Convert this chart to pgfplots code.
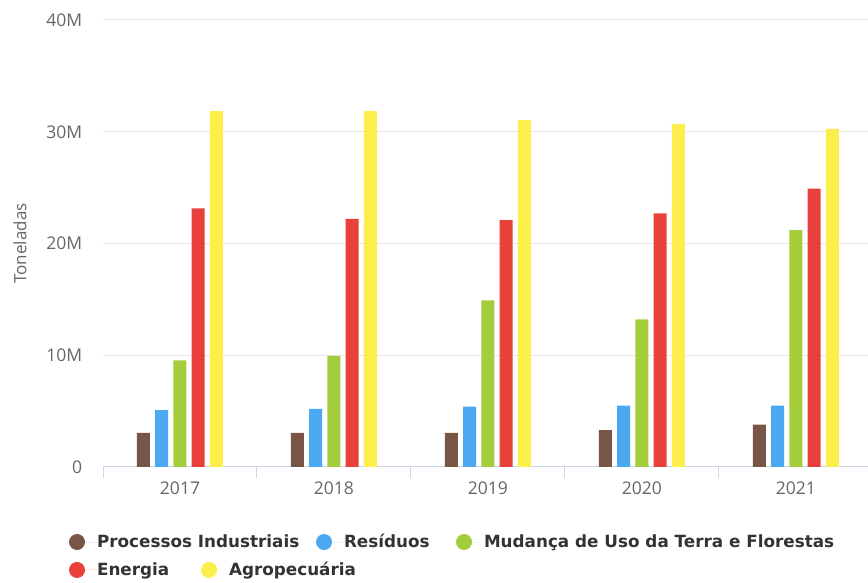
\documentclass[border=0pt]{standalone}
\usepackage{pgfplots}
\pgfplotsset{compat=1.18}
\usepackage{fontspec}
\setmainfont{Open Sans}
\newfontfamily\legfont{DejaVu Sans}

\definecolor{cBrown}{HTML}{795548}
\definecolor{cBlue}{HTML}{4AA9F0}
\definecolor{cGreen}{HTML}{A4CD3B}
\definecolor{cRed}{HTML}{E8403A}
\definecolor{cYellow}{HTML}{FCEF4C}
\definecolor{gridc}{HTML}{E6E6E6}
\definecolor{axisc}{HTML}{CCD6EB}
\definecolor{tickc}{HTML}{666666}
\definecolor{legc}{HTML}{333333}

% emissions per sector, millions of tonnes
\pgfplotstableread{
x  proc  resid  mud   ener  agro
0  3.05  5.10   9.55  23.15 31.85
1  3.05  5.20   9.95  22.20 31.85
2  3.05  5.40  14.90  22.10 31.05
3  3.30  5.50  13.20  22.70 30.70
4  3.80  5.50  21.20  24.90 30.25
}\emis

\tikzset{legfontstyle/.style={font=\legfont\bfseries\fontsize{16.8}{19}\selectfont}}
\pgfplotsset{
  circleleg/.style={legend image code/.code={
      \fill[##1] (8pt,0pt) circle (8pt);
      \path (0pt,0pt) -- (28pt,0pt);}},
}

\begin{document}
\begin{tikzpicture}
\useasboundingbox (0,0) rectangle (868pt,583pt);
\begin{axis}[
  at={(103pt,116pt)}, anchor=south west,
  scale only axis, width=765pt, height=447pt,
  xmin=-0.5, xmax=4.468, ymin=0, ymax=40,
  axis x line*=bottom, axis y line*=left,
  x axis line style={draw=axisc, line width=1pt},
  y axis line style={draw=none},
  ytick={0,10,20,30,40},
  yticklabels={0,10M,20M,30M,40M},
  xtick={0,1,2,3,4},
  xticklabels={2017,2018,2019,2020,2021},
  minor xtick={-0.5,0.5,1.5,2.5,3.5},
  major tick style={draw=none},
  minor tick style={draw=axisc, line width=1pt},
  minor tick length=11pt,
  tick align=outside,
  ymajorgrids, grid style={draw=gridc, line width=1pt},
  yticklabel style={font=\fontsize{17.5}{20}\selectfont, text=tickc, xshift=-13pt},
  xticklabel style={font=\fontsize{17.5}{20}\selectfont, text=tickc, yshift=-7pt},
  /pgf/number format/assume math mode=true,
  ylabel={Toneladas},
  every axis y label/.style={at={(axis description cs:-0.1085,0.5)}, rotate=90,
    anchor=center, font=\fontsize{17}{20}\selectfont, text=tickc},
  ybar=5.25pt, bar width=13pt,
  legend style={draw=none, fill=none, inner sep=0pt, outer sep=0pt,
    at={(axis description cs:-0.0444,-0.1678)}, anchor=west,
    nodes={inner sep=0pt, text=legc, legfontstyle},
    column sep=0pt},
  legend columns=-1,
  circleleg,
]
\addplot[fill=cBrown, draw=none] table[x=x, y=proc] {\emis};
\addlegendentry{\makebox[219pt][l]{Processos Industriais}}
\addplot[fill=cBlue, draw=none] table[x=x, y=resid] {\emis};
\addlegendentry{\makebox[112pt][l]{Resíduos}}
\addplot[fill=cGreen, draw=none] table[x=x, y=mud] {\emis};
\addlegendentry{Mudança de Uso da Terra e Florestas}
\addplot[fill=cRed, draw=none] table[x=x, y=ener] {\emis};
\addplot[fill=cYellow, draw=none] table[x=x, y=agro] {\emis};
\end{axis}
% second legend row
\begin{axis}[
  at={(103pt,116pt)}, anchor=south west,
  scale only axis, width=765pt, height=447pt,
  xmin=-0.5, xmax=4.468, ymin=0, ymax=40,
  hide axis,
  legend style={draw=none, fill=none, inner sep=0pt, outer sep=0pt,
    at={(axis description cs:-0.0444,-0.2304)}, anchor=west,
    nodes={inner sep=0pt, text=legc, legfontstyle},
    column sep=0pt},
  legend columns=-1,
  circleleg,
]
\addlegendimage{fill=cRed, draw=none}
\addlegendentry{\makebox[104pt][l]{Energia}}
\addlegendimage{fill=cYellow, draw=none}
\addlegendentry{Agropecuária}
\end{axis}
\end{tikzpicture}
\end{document}
